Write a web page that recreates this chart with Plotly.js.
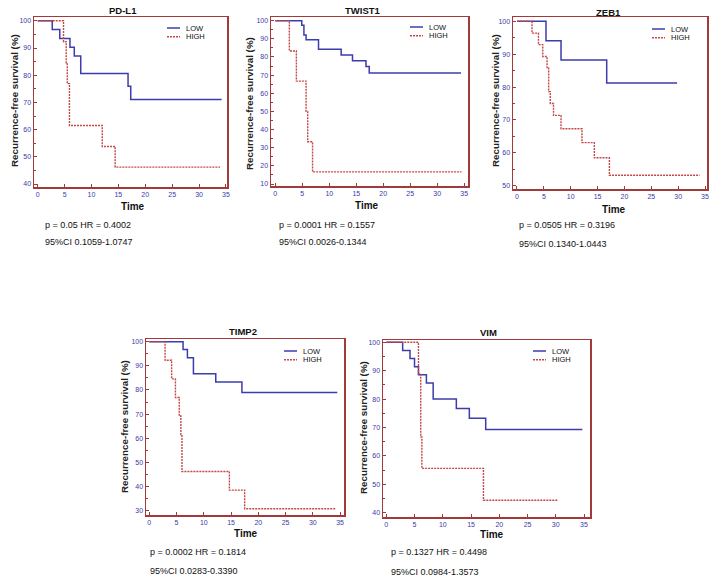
<!DOCTYPE html>
<html>
<head>
<meta charset="utf-8">
<script src="https://cdn.plot.ly/plotly-3.0.1.min.js"></script>
<style>html,body{margin:0;padding:0;background:#fff;}#chart{width:715px;height:582px;}</style>
</head>
<body>
<div id="chart"></div>
<script>
// ---------------- data ----------------
const panelNames = ["PD-L1", "TWIST1", "ZEB1", "TIMP2", "VIM"];
const seriesNames = ["LOW", "HIGH"];

const pdl1LowTime  = [0, 2.7, 4.1, 6.0, 6.8, 8.0, 16.8, 17.3, 34.2];
const pdl1LowSurv  = [100, 96.8, 93.5, 90.3, 87.1, 80.6, 75.9, 71.1, 71.1];
const pdl1HighTime = [0, 4.8, 5.3, 5.5, 5.9, 12.0, 14.4, 33.9];
const pdl1HighSurv = [100, 92.3, 84.6, 76.9, 61.5, 53.8, 46.2, 46.2];

const twistLowTime  = [0, 4.9, 5.3, 5.7, 8.0, 12.2, 14.3, 16.8, 17.4, 34.4];
const twistLowSurv  = [100, 97.4, 92.1, 89.5, 84.2, 81.0, 77.9, 74.7, 71.1, 71.1];
const twistHighTime = [0, 2.6, 3.9, 5.7, 6.0, 6.9, 34.5];
const twistHighSurv = [100, 83.3, 66.7, 50.0, 33.3, 16.7, 16.7];

const zebLowTime  = [0, 5.4, 8.2, 16.7, 29.8];
const zebLowSurv  = [100, 94.1, 88.2, 81.2, 81.2];
const zebHighTime = [0, 2.8, 4.0, 4.8, 5.6, 5.9, 6.2, 6.8, 8.2, 12.1, 14.4, 17.2, 34.0];
const zebHighSurv = [100, 96.4, 92.9, 89.3, 85.7, 78.6, 75.0, 71.4, 67.3, 63.1, 58.5, 53.2, 53.2];

const timpLowTime  = [0, 6.2, 7.0, 8.1, 12.2, 17.0, 34.5];
const timpLowSurv  = [100, 96.7, 93.3, 86.7, 83.3, 78.9, 78.9];
const timpHighTime = [0, 2.9, 4.1, 4.8, 5.5, 5.8, 6.0, 14.7, 17.5, 34.3];
const timpHighSurv = [100, 92.3, 84.6, 76.9, 69.2, 61.5, 46.2, 38.5, 30.8, 30.8];

const vimLowTime  = [0, 2.9, 4.2, 5.0, 5.7, 7.1, 8.3, 12.4, 14.7, 17.6, 34.7];
const vimLowSurv  = [100, 97.1, 94.3, 91.4, 88.6, 85.7, 80.0, 76.7, 73.3, 69.3, 69.3];
const vimHighTime = [0, 5.7, 6.1, 6.3, 17.2, 30.3];
const vimHighSurv = [100, 88.9, 66.7, 55.6, 44.4, 44.4];

const statLines1 = ["p = 0.05 HR = 0.4002", "p = 0.0001 HR = 0.1557", "p = 0.0505 HR = 0.3196", "p = 0.0002 HR = 0.1814", "p = 0.1327 HR = 0.4498"];
const statLines2 = ["95%CI 0.1059-1.0747", "95%CI 0.0026-0.1344", "95%CI 0.1340-1.0443", "95%CI 0.0283-0.3390", "95%CI 0.0984-1.3573"];

const xTickVals = [0, 5, 10, 15, 20, 25, 30, 35];
const yTitle = "Recurrence-free survival (%)";
const xTitle = "Time";

const lowT  = [pdl1LowTime, twistLowTime, zebLowTime, timpLowTime, vimLowTime];
const lowS  = [pdl1LowSurv, twistLowSurv, zebLowSurv, timpLowSurv, vimLowSurv];
const highT = [pdl1HighTime, twistHighTime, zebHighTime, timpHighTime, vimHighTime];
const highS = [pdl1HighSurv, twistHighSurv, zebHighSurv, timpHighSurv, vimHighSurv];

// ---------------- layout geometry (pixels) ----------------
const W = 715, H = 582;
const px = x => x / W;
const py = y => 1 - y / H;

const geo = [
  {box: [34, 17, 227, 187],  xr: [-0.69, 35.2], yr: [38.9, 101.4], title: [123, 10], time: [133, 206], ytl: [14, 101],  stat: [43, 225, 242], leg: [167, 28]},
  {box: [271, 17, 468, 186], xr: [-0.8, 35.7],  yr: [8.9, 102.0],  title: [363, 10], time: [367, 205], ytl: [249, 104], stat: [277, 225, 242], leg: [410, 27]},
  {box: [513, 17, 707, 189], xr: [-0.74, 35.37],yr: [49.0, 101.3], title: [608, 12], time: [614, 209], ytl: [495, 101], stat: [517, 225, 244], leg: [652, 29]},
  {box: [146, 339, 344, 515],xr: [-0.6, 35.73], yr: [28.2, 101.1], title: [243, 331], time: [246, 533], ytl: [125, 427], stat: [148, 552, 571], leg: [284, 351]},
  {box: [383, 340, 590, 517],xr: [-0.58, 36.06],yr: [38.5, 100.8], title: [488, 332], time: [492, 534], ytl: [363, 428], stat: [389, 552, 572], leg: [533, 351]}
];

const frameColor = "#a33a3a";
const tickColor = "#3a3aa8";
const lowColor = "#3c3cae";
const highColor = "#c44848";

const traces = [];
const layout = {
  width: W, height: H,
  margin: {l: 0, r: 0, t: 0, b: 0},
  paper_bgcolor: "#fff", plot_bgcolor: "#fff",
  showlegend: false,
  font: {family: "Liberation Sans, Arial, sans-serif", color: "#000"},
  annotations: [], shapes: []
};

geo.forEach((g, i) => {
  const n = i === 0 ? "" : String(i + 1);
  const xa = "x" + n, ya = "y" + n;
  traces.push({
    x: lowT[i], y: lowS[i], xaxis: xa, yaxis: ya, type: "scatter", mode: "lines",
    name: seriesNames[0], line: {shape: "hv", color: lowColor, width: 1.5}, hoverinfo: "skip"
  });
  traces.push({
    x: highT[i], y: highS[i], xaxis: xa, yaxis: ya, type: "scatter", mode: "lines",
    name: seriesNames[1], line: {shape: "hv", color: highColor, width: 1.4, dash: "2px,1px"}, hoverinfo: "skip"
  });
  const [l, t, r, b] = g.box;
  layout["xaxis" + n] = {
    domain: [px(l), px(r)], anchor: ya, range: g.xr,
    tickvals: xTickVals, ticks: "inside", ticklen: 3, tickcolor: frameColor, tickwidth: 1,
    showline: true, mirror: true, linecolor: frameColor, linewidth: 1.5,
    showgrid: false, zeroline: false,
    tickfont: {size: 7, color: tickColor, family: "Liberation Sans, Arial, sans-serif"}
  };
  layout["yaxis" + n] = {
    domain: [py(b), py(t)], anchor: xa, range: g.yr,
    dtick: 10, tick0: 0, ticks: "inside", ticklen: 3, tickcolor: frameColor, tickwidth: 1,
    minor: {dtick: 5, ticks: "inside", ticklen: 2, tickcolor: frameColor},
    showline: true, mirror: true, linecolor: frameColor, linewidth: 1.5,
    showgrid: false, zeroline: false,
    tickfont: {size: 7, color: tickColor, family: "Liberation Sans, Arial, sans-serif"}
  };
  const A = layout.annotations;
  A.push({text: "<b>" + panelNames[i] + "</b>", x: px(g.title[0]), y: py(g.title[1]), xref: "paper", yref: "paper",
          xanchor: "center", yanchor: "middle", showarrow: false, font: {size: 9.5, color: "#111"}});
  A.push({text: "<b>" + xTitle + "</b>", x: px(g.time[0]), y: py(g.time[1]), xref: "paper", yref: "paper",
          xanchor: "center", yanchor: "middle", showarrow: false, font: {size: 10, color: "#111"}});
  A.push({text: "<b>" + yTitle + "</b>", x: px(g.ytl[0]), y: py(g.ytl[1]), xref: "paper", yref: "paper", textangle: -90,
          xanchor: "center", yanchor: "middle", showarrow: false, font: {size: 9.8, color: "#222"}});
  A.push({text: statLines1[i], x: px(g.stat[0]), y: py(g.stat[1]), xref: "paper", yref: "paper",
          xanchor: "left", yanchor: "middle", showarrow: false, font: {size: 9, color: "#111"}});
  A.push({text: statLines2[i], x: px(g.stat[0]), y: py(g.stat[2]), xref: "paper", yref: "paper",
          xanchor: "left", yanchor: "middle", showarrow: false, font: {size: 9, color: "#111"}});
  const [lx, ly] = g.leg;
  layout.shapes.push({type: "line", xref: "paper", yref: "paper", x0: px(lx), x1: px(lx + 13), y0: py(ly), y1: py(ly),
                      line: {color: lowColor, width: 1.5}});
  layout.shapes.push({type: "line", xref: "paper", yref: "paper", x0: px(lx), x1: px(lx + 13), y0: py(ly + 8.7), y1: py(ly + 8.7),
                      line: {color: highColor, width: 1.4, dash: "2px,1px"}});
  A.push({text: seriesNames[0], x: px(lx + 17), y: py(ly), xref: "paper", yref: "paper",
          xanchor: "left", yanchor: "middle", showarrow: false, font: {size: 7.5, color: "#111"}});
  A.push({text: seriesNames[1], x: px(lx + 17), y: py(ly + 8.7), xref: "paper", yref: "paper",
          xanchor: "left", yanchor: "middle", showarrow: false, font: {size: 7.5, color: "#111"}});
});

Plotly.newPlot("chart", traces, layout, {staticPlot: true, displayModeBar: false});
</script>
</body>
</html>
